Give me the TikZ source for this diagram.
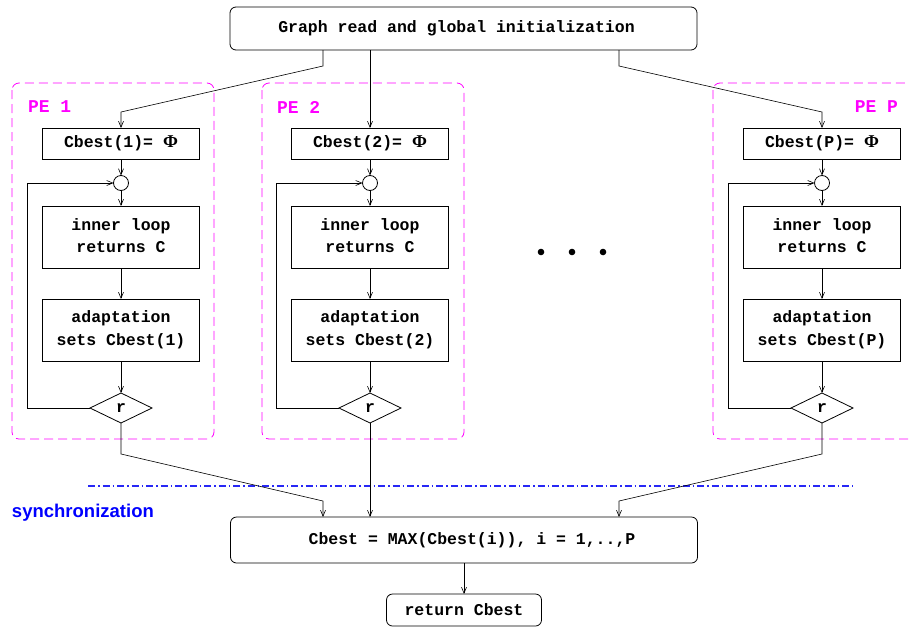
\documentclass[tikz,border=0pt]{standalone}
\usepackage{fontspec}
\usetikzlibrary{arrows.meta,shapes.geometric}
\newfontfamily\courb{Liberation Mono}[BoldFont={Liberation Mono Bold}]
\newfontfamily\phifont{Liberation Serif}
\newfontfamily\helvb{Liberation Sans}[BoldFont={Liberation Sans Bold}]
\newcommand{\PhiSym}{{\phifont\fontsize{18}{21}\selectfont\char"03A6}}

\definecolor{pemag}{RGB}{255,0,255}
\definecolor{syncblue}{RGB}{40,40,245}
\definecolor{textblue}{RGB}{0,0,255}

\tikzset{
  x=1pt, y=-1pt,
  every node/.style={inner sep=0pt, outer sep=0pt},
  boxtxt/.style={font=\courb\bfseries\fontsize{16.5}{21}\selectfont, align=center},
  rbox/.style={boxtxt, draw, line width=0.8pt, rounded corners=6pt},
  sbox/.style={boxtxt, draw, line width=0.8pt, minimum width=157pt},
  joint/.style={circle, draw, line width=0.8pt, minimum size=15pt},
  test/.style={diamond, draw, line width=0.8pt, boxtxt, minimum width=62pt, minimum height=30pt, aspect=2.07},
  link/.style={draw, line width=0.6pt},
  arr/.style={link, -{Straight Barb[length=6pt,width=5pt,line width=0.6pt]}},
  peframe/.style={draw=pemag, line width=0.8pt, dash pattern=on 9pt off 5pt, rounded corners=7pt},
  pelabel/.style={text=pemag, font=\courb\bfseries\fontsize{18}{21}\selectfont},
  syncline/.style={draw=syncblue, line width=1.2pt, dash pattern=on 7pt off 3pt on 1.5pt off 3pt},
}

\begin{document}
\begin{tikzpicture}
\useasboundingbox (0,0) rectangle (909,627);

% processing-element frames
\draw[peframe] (12,83) rectangle (214,439);
\draw[peframe] (262,83) rectangle (464,439);
\draw[peframe] (713,83) rectangle (930,439);
\node[pelabel, anchor=west] (pe1) at (28,107) {PE 1};
\node[pelabel, anchor=west] (pe2) at (277,107) {PE 2};
\node[pelabel, anchor=east] (pep) at (898,107) {PE P};

% global start
\node[rbox, minimum width=467pt, minimum height=43pt] (top) at (463.5,28.5) {Graph read and global initialization\hspace{14pt}};

% one column per processing element
\foreach \n/\cx/\lab in {1/121/1, 2/370/2, 3/822/P} {
  \node[sbox, minimum height=31pt] (init\n) at (\cx,143.5) {Cbest(\lab)= \PhiSym};
  \node[joint] (circ\n) at (\cx,183) {};
  \node[sbox, minimum height=62pt] (inner\n) at (\cx,237) {\raisebox{3.5pt}{\shortstack{inner loop\\[5pt]returns C}}};
  \node[sbox, minimum height=62pt] (adapt\n) at (\cx,330) {\raisebox{3.5pt}{\shortstack{adaptation\\[5pt]sets Cbest(\lab)}}};
  \node[test] (dia\n) at (\cx,408) {r};
  \draw[arr] (init\n.south) -- (circ\n.north);
  \draw[arr] (circ\n.south) -- (inner\n.north);
  \draw[arr] (inner\n.south) -- (adapt\n.north);
  \draw[arr] (adapt\n.south) -- (dia\n.north);
  \draw[arr] (dia\n.west) -- ++(-63,0) |- (circ\n.west);
}

% fan-out from the start box
\coordinate (t1) at ([xshift=-140.5pt]top.south);
\coordinate (t3) at ([xshift=155.5pt]top.south);
\draw[arr] (t1) -- ++(0,16) -- (init1.north |- 0,112) -- (init1.north);
\draw[arr] (top.south -| init2.north) -- (init2.north);
\draw[arr] (t3) -- ++(0,16) -- (init3.north |- 0,112) -- (init3.north);

% ellipsis between columns
\foreach \d/\dx in {1/541, 2/572, 3/603}
  \fill (\dx,252) circle (3.3pt);

% synchronization barrier
\coordinate (sl) at (88,486);
\coordinate (sr) at (853,486);
\draw[syncline] (sl) -- (sr);
\node[anchor=base west, text=textblue, font=\helvb\bfseries\fontsize{18.5}{22}\selectfont] (synclab) at (12,517) {synchronization};

% reduction and result
\node[rbox, minimum width=467pt, minimum height=46pt] (sync) at (464,540) {\hspace{16pt}Cbest = MAX(Cbest(i)), i = 1,..,P};
\node[rbox, minimum width=155pt, minimum height=32pt] (ret) at (464,610) {return Cbest};

\coordinate (s1) at ([xshift=-141pt]sync.north);
\coordinate (s3) at ([xshift=155pt]sync.north);
\draw[arr] (dia1.south) -- ++(0,31) -- (s1 |- 0,501) -- (s1);
\draw[arr] (dia2.south) -- (dia2.south |- sync.north);
\draw[arr] (dia3.south) -- ++(0,31) -- (s3 |- 0,501) -- (s3);
\draw[arr] (sync.south) -- (ret.north);
\end{tikzpicture}
\end{document}
